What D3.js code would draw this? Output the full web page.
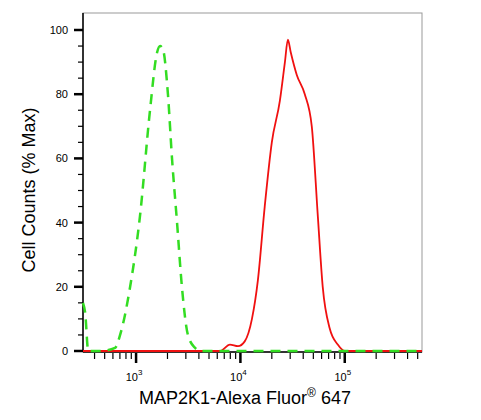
<!DOCTYPE html>
<html><head><meta charset="utf-8">
<script src="https://cdn.jsdelivr.net/npm/d3@7"></script>
<style>body{margin:0;background:#fff}text{font-family:"Liberation Sans",Arial,sans-serif}</style>
</head><body><svg id="chart" width="481" height="420"></svg>
<script>
var greenX = [310, 325, 348, 453, 630, 703, 877, 1090, 1360, 1590, 1700, 1810, 2020, 2210, 2470, 2750, 3140, 3670, 4100, 550000];
var greenY = [15, 12, 0, 0, 1, 5, 20, 42, 75, 93, 95, 94, 80, 60, 40, 20, 5, 1, 0, 0];
var redX = [310, 6370, 7940, 9470, 11000, 12900, 14700, 17100, 20000, 23900, 26700, 28500, 30400, 34700, 41400, 48300, 55200, 61500, 71800, 85700, 100000, 550000];
var redY = [0, 0, 2, 1.5, 3, 10, 22, 45, 65, 78, 90, 97, 93, 86, 80, 70, 42, 20, 7, 2, 0, 0];
var yTicks = [0, 20, 40, 60, 80, 100];
var xDecades = [1000, 10000, 100000];

var svg = d3.select("#chart");
var x = d3.scaleLog().domain([310, 550000]).range([83, 422]);
var y = d3.scaleLinear().domain([0, 100]).range([351, 30]);
var top_ = 13, bottom = 352;

// frame
svg.append("rect").attr("x", 83).attr("y", top_).attr("width", 339).attr("height", bottom - top_)
    .attr("fill", "none").attr("stroke", "#999").attr("stroke-width", 1);

// y axis
svg.append("line").attr("x1", 83).attr("x2", 83).attr("y1", top_).attr("y2", bottom).attr("stroke", "#000").attr("stroke-width", 1.5);
svg.selectAll(".yminor").data(d3.range(0, 101, 5)).enter().append("line")
    .attr("x1", 78).attr("x2", 83).attr("y1", function(d) { return y(d); }).attr("y2", function(d) { return y(d); })
    .attr("stroke", "#000").attr("stroke-width", function(d) { return d % 20 == 0 ? 2.5 : 1.2; })
    .attr("x1", function(d) { return d % 20 == 0 ? 74 : 78; });
svg.selectAll(".ylab").data(yTicks).enter().append("text")
    .attr("x", 68).attr("y", function(d) { return y(d) + 4; })
    .attr("text-anchor", "end").attr("font-size", "11px").text(function(d) { return d; });

// x axis
svg.append("line").attr("x1", 83).attr("x2", 422).attr("y1", bottom).attr("y2", bottom).attr("stroke", "#000").attr("stroke-width", 1.5);
var minors = [];
[100, 1000, 10000, 100000].forEach(function(b) { for (var k = 1; k < 10; k++) { var v = b * k; if (v >= 310 && v <= 550000) minors.push(v); } });
svg.selectAll(".xminor").data(minors).enter().append("line")
    .attr("x1", function(d) { return x(d); }).attr("x2", function(d) { return x(d); })
    .attr("y1", bottom + 1).attr("y2", function(d) { return xDecades.indexOf(d) >= 0 ? bottom + 11 : bottom + 7; })
    .attr("stroke", "#000").attr("stroke-width", function(d) { return xDecades.indexOf(d) >= 0 ? 2.5 : 1.2; });
var xl = svg.selectAll(".xlab").data(xDecades).enter().append("text")
    .attr("x", function(d) { return x(d) - 2; }).attr("y", 381).attr("text-anchor", "middle").attr("font-size", "11px");
xl.append("tspan").text("10");
xl.append("tspan").attr("dy", -6).attr("font-size", "8px").text(function(d) { return Math.round(Math.log10(d)); });

// curves
var line = d3.line().x(function(d) { return x(d[0]); }).y(function(d) { return y(d[1]); }).curve(d3.curveMonotoneX);
svg.append("path").datum(d3.zip(redX, redY)).attr("d", line)
    .attr("fill", "none").attr("stroke", "#f01010").attr("stroke-width", 1.8);
svg.append("path").datum(d3.zip(greenX, greenY)).attr("d", line)
    .attr("fill", "none").attr("stroke", "#33dd22").attr("stroke-width", 2.5).attr("stroke-dasharray", "10,7");

// labels
var t = svg.append("text").attr("x", 245).attr("y", 404).attr("text-anchor", "middle").attr("font-size", "18px");
t.append("tspan").text("MAP2K1-Alexa Fluor");
t.append("tspan").attr("dy", -7).attr("font-size", "12px").text("®");
t.append("tspan").attr("dy", 7).text(" 647");
svg.append("text").attr("transform", "translate(35,190) rotate(-90)").attr("text-anchor", "middle")
    .attr("font-size", "18px").text("Cell Counts (% Max)");
</script></body></html>
